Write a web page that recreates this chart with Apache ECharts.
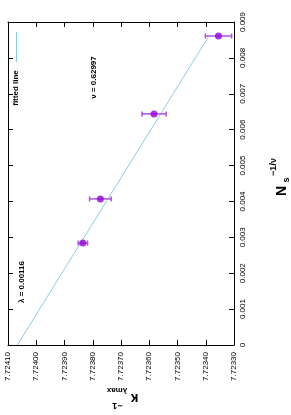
<!DOCTYPE html>
<html><head><meta charset="utf-8">
<script src="https://cdn.jsdelivr.net/npm/echarts@6/dist/echarts.min.js"></script>
<style>html,body{margin:0;padding:0;background:#fff}#c{width:291px;height:415px}</style>
</head><body><div id="c"></div>
<script>
// data
const kappaInv = [7.723355, 7.723583, 7.723773, 7.723835];
const nsPow    = [0.00861, 0.00644, 0.00407, 0.00284];
const kappaErr = [0.0000465, 0.0000425, 0.0000382, 0.0000166];
const fitN     = [0, 0.00858];
const fitKappa = [7.724067, 7.723391];
const xMin = 7.7233, xMax = 7.7241, xStep = 0.0001;
const yMin = 0, yMax = 0.009, yStep = 0.001;
const nuText = 'ν = 0.62997';
const lambdaText = 'λ = 0.00116';
const legendText = 'fitted line';

const FONT = '"Liberation Sans", Arial, sans-serif';
const chart = echarts.init(document.getElementById('c'), null, {renderer: 'canvas'});

const pts = kappaInv.map((k, i) => [k, nsPow[i], kappaErr[i]]);
const fit = fitN.map((n, i) => [fitKappa[i], n]);

const xAx = (pos, labels) => ({
  type: 'value', position: pos, min: xMin, max: xMax, interval: xStep, inverse: true,
  axisLine: {show: true, onZero: false, lineStyle: {color: '#000', width: 1}},
  axisTick: {show: true, inside: true, length: 5, lineStyle: {color: '#000'}},
  splitLine: {show: false},
  axisLabel: labels ? {show: true, rotate: 90, margin: 7, color: '#000', fontFamily: FONT, fontSize: 8,
    formatter: v => v.toFixed(5)} : {show: false}
});
const yAx = (pos, labels) => ({
  type: 'value', position: pos, min: yMin, max: yMax, interval: yStep,
  axisLine: {show: true, onZero: false, lineStyle: {color: '#000', width: 1}},
  axisTick: {show: true, inside: true, length: 5, lineStyle: {color: '#000'}},
  splitLine: {show: false},
  axisLabel: labels ? {show: true, rotate: 90, margin: 5, color: '#000', fontFamily: FONT, fontSize: 8,
    formatter: v => (Math.abs(v) < 1e-12 ? '0' : v.toFixed(3))} : {show: false}
});

const t = (text, x, y, rot, size, bold, align) => ({
  type: 'text', x: x, y: y, rotation: rot, silent: true,
  style: {text: text, fill: '#000', font: (bold ? 'bold ' : '') + size + 'px ' + FONT,
    textAlign: align || 'center', textVerticalAlign: 'middle'}
});
const R90 = Math.PI / 2, R180 = Math.PI;

chart.setOption({
  animation: false,
  backgroundColor: '#fff',
  grid: {left: 8, right: 57, top: 22, bottom: 70, containLabel: false},
  xAxis: [xAx('bottom', true), xAx('top', false)],
  yAxis: [yAx('right', true), yAx('left', false)],
  series: [
    {type: 'line', data: fit, xAxisIndex: 0, yAxisIndex: 0, symbol: 'none',
      lineStyle: {color: '#87ceeb', width: 1}, z: 2},
    {type: 'custom', data: pts, xAxisIndex: 0, yAxisIndex: 0, z: 3,
      renderItem: (params, api) => {
        const k = api.value(0), n = api.value(1), e = api.value(2);
        const a = api.coord([k - e, n]), b = api.coord([k + e, n]);
        const st = {stroke: '#b04ee6', lineWidth: 1.5};
        return {type: 'group', children: [
          {type: 'line', shape: {x1: a[0], y1: a[1], x2: b[0], y2: b[1]}, style: st},
          {type: 'line', shape: {x1: a[0], y1: a[1] - 2.5, x2: a[0], y2: a[1] + 2.5}, style: st},
          {type: 'line', shape: {x1: b[0], y1: b[1] - 2.5, x2: b[0], y2: b[1] + 2.5}, style: st}
        ]};
      }},
    {type: 'scatter', data: pts.map(p => [p[0], p[1]]), xAxisIndex: 0, yAxisIndex: 0,
      symbol: 'circle', symbolSize: 7, itemStyle: {color: '#9400d3'}, z: 4}
  ],
  graphic: [
    // legend
    t(legendText, 15.5, 88, R90, 8, true, 'center'),
    {type: 'line', silent: true, shape: {x1: 16.5, y1: 62, x2: 16.5, y2: 32},
      style: {stroke: '#87ceeb', lineWidth: 1}},
    // annotations
    t(nuText, 94, 77.5, R90, 8, true, 'center'),
    t(lambdaText, 21.5, 282, R90, 8, true, 'center'),
    // bottom axis title (rotated 180)
    t('κ', 134.5, 397.5, R180, 14, true, 'center'),
    t('−1', 117.5, 405, R180, 9, true, 'center'),
    t('λmax', 117, 390, R180, 8, true, 'center'),
    // right axis title (rotated 90)
    t('N', 282, 191, R90, 14, true, 'center'),
    t('s', 287, 180, R90, 9, true, 'center'),
    t('−1/ν', 274, 167, R90, 9, true, 'center')
  ]
});
</script></body></html>
